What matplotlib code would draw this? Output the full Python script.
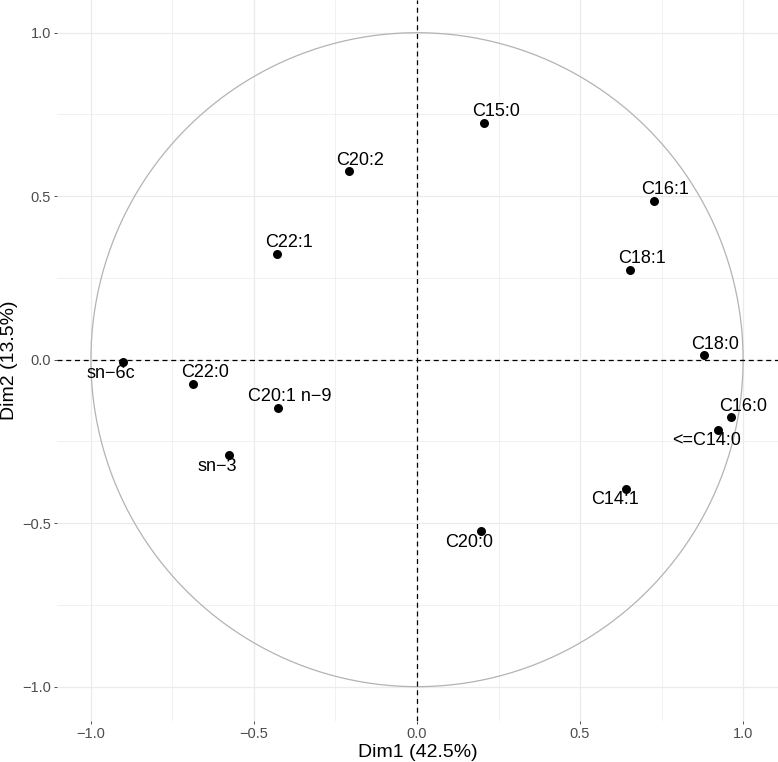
import numpy as np
import matplotlib
matplotlib.use("Agg")
import matplotlib.pyplot as plt

plt.rcParams['font.family'] = ['Liberation Sans', 'DejaVu Sans']

# Data: variable correlations with Dim1 / Dim2
names = ["C15:0", "C20:2", "C16:1", "C22:1", "C18:1", "C18:0", "sn−6c", "C22:0",
         "C20:1 n−9", "C16:0", "<=C14:0", "sn−3", "C14:1", "C20:0"]
dim1 = [0.206, -0.209, 0.726, -0.429, 0.653, 0.879, -0.903, -0.686,
        -0.427, 0.963, 0.923, -0.576, 0.642, 0.196]
dim2 = [0.724, 0.576, 0.486, 0.324, 0.275, 0.013, -0.008, -0.073,
        -0.148, -0.176, -0.214, -0.293, -0.394, -0.524]
# label placement direction: +1 = above-right, -1 = below-left
label_side = [1, 1, 1, 1, 1, 1, -1, 1, 1, 1, -1, -1, -1, -1]

xticks = [-1.0, -0.5, 0.0, 0.5, 1.0]
yticks = [-1.0, -0.5, 0.0, 0.5, 1.0]
xlabel = "Dim1 (42.5%)"
ylabel = "Dim2 (13.5%)"

W, H, DPI = 778, 762, 100
fig = plt.figure(figsize=(W / DPI, H / DPI), dpi=DPI)
ax = fig.add_axes([57 / W, 1 - 721 / H, 1 - 57 / W, 721 / H])

ax.set_xlim(-1.104, 1.107)
ax.set_ylim(-1.105, 1.10)

# grid
ax.set_xticks(xticks)
ax.set_yticks(yticks)
ax.set_xticks([-0.75, -0.25, 0.25, 0.75], minor=True)
ax.set_yticks([-0.75, -0.25, 0.25, 0.75], minor=True)
ax.grid(which='major', color='#ebebeb', linewidth=0.9)
ax.grid(which='minor', color='#ebebeb', linewidth=0.5)
ax.set_axisbelow(True)
for s in ax.spines.values():
    s.set_visible(False)

ax.tick_params(which='major', length=2.5, width=0.6, color='#333333',
               labelcolor='#4d4d4d', labelsize=10.5, pad=2)
ax.tick_params(which='minor', length=0)
ax.set_xticklabels([f"{v:.1f}".replace('-', '−') for v in xticks])
ax.set_yticklabels([f"{v:.1f}".replace('-', '−') for v in yticks])

# circle
t = np.linspace(0, 2 * np.pi, 400)
ax.plot(np.cos(t), np.sin(t), color='#b3b3b3', linewidth=0.9, zorder=2)

# reference lines
ax.axhline(0, color='black', linestyle=(0, (4, 3)), linewidth=0.9, zorder=3)
ax.axvline(0, color='black', linestyle=(0, (4, 3)), linewidth=0.9, zorder=3)

# points
ax.scatter(dim1, dim2, s=42, color='black', zorder=4, linewidths=0)

for n, x, y, sd in zip(names, dim1, dim2, label_side):
    ax.annotate(n, (x, y), xytext=(8.4 * sd, 8.0 * sd), textcoords='offset points',
                ha='center', va='center', fontsize=13, color='black', zorder=5)

ax.set_xlabel(xlabel, fontsize=14, color='black', labelpad=2)
ax.set_ylabel(ylabel, fontsize=14, color='black', labelpad=3)

fig.savefig("out.png", dpi=DPI)
